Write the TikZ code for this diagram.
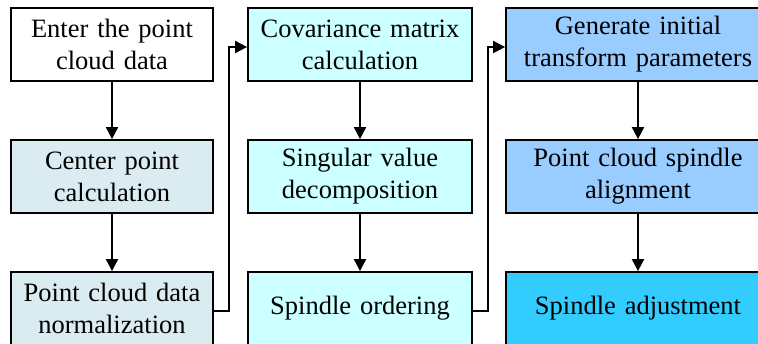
\documentclass[tikz,border=0pt]{standalone}
\usepackage{fontspec}
\setmainfont{Liberation Serif}
\usetikzlibrary{arrows.meta,calc}

\definecolor{boxgray}{HTML}{DAEBF2}
\definecolor{boxcyan}{HTML}{CCFFFF}
\definecolor{boxblue}{HTML}{99CCFF}
\definecolor{boxdeep}{HTML}{33CCFF}

\tikzset{
  flowbox/.style={draw=black, line width=1.8pt, rectangle, align=center,
    minimum height=73pt, inner sep=0pt,
    font=\fontsize{26.5}{32}\selectfont},
  colA/.style={flowbox, minimum width=202pt, text width=200pt},
  colB/.style={flowbox, minimum width=224pt, text width=222pt},
  colC/.style={flowbox, minimum width=264pt, text width=262pt},
  flowarrow/.style={line width=2pt, -{Triangle[length=12pt,width=12pt]}},
}

\begin{document}
\begin{tikzpicture}[x=1pt,y=1pt]
  \useasboundingbox (0,0) rectangle (758,-344);
  \clip (0,0) rectangle (758,-344);

  % first column
  \node[colA, fill=white]    (a1) at (112,-44.5)  {Enter the point\\cloud data};
  \node[colA, fill=boxgray]  (a2) at (112,-176.5) {Center point\\calculation};
  \node[colA, fill=boxgray]  (a3) at (112,-308.5) {Point cloud data\\normalization};

  % second column
  \node[colB, fill=boxcyan]  (b1) at (360,-44.5)  {Covariance matrix\\calculation};
  \node[colB, fill=boxcyan]  (b2) at (360,-176.5) {Singular value\\decomposition};
  \node[colB, fill=boxcyan]  (b3) at (360,-308.5) {Spindle ordering};

  % third column
  \node[colC, fill=boxblue]  (c1) at (638,-44.5)  {Generate initial\\transform parameters};
  \node[colC, fill=boxblue]  (c2) at (638,-176.5) {Point cloud spindle\\alignment};
  \node[colC, fill=boxdeep]  (c3) at (638,-308.5) {Spindle adjustment};

  % vertical flow inside each column
  \draw[flowarrow] (a1) -- (a2);
  \draw[flowarrow] (a2) -- (a3);
  \draw[flowarrow] (b1) -- (b2);
  \draw[flowarrow] (b2) -- (b3);
  \draw[flowarrow] (c1) -- (c2);
  \draw[flowarrow] (c2) -- (c3);

  % links from the bottom of one column to the top of the next
  \coordinate (ja) at ($(a3.east)+(15,-2.5)$);
  \coordinate (jb) at ($(b3.east)+(15,-2.5)$);
  \draw[flowarrow] ($(a3.east)+(0,-2.5)$) -- (ja) |- ($(b1.west)+(0,-2.5)$);
  \draw[flowarrow] ($(b3.east)+(0,-2.5)$) -- (jb) |- ($(c1.west)+(0,-2.5)$);
\end{tikzpicture}
\end{document}
